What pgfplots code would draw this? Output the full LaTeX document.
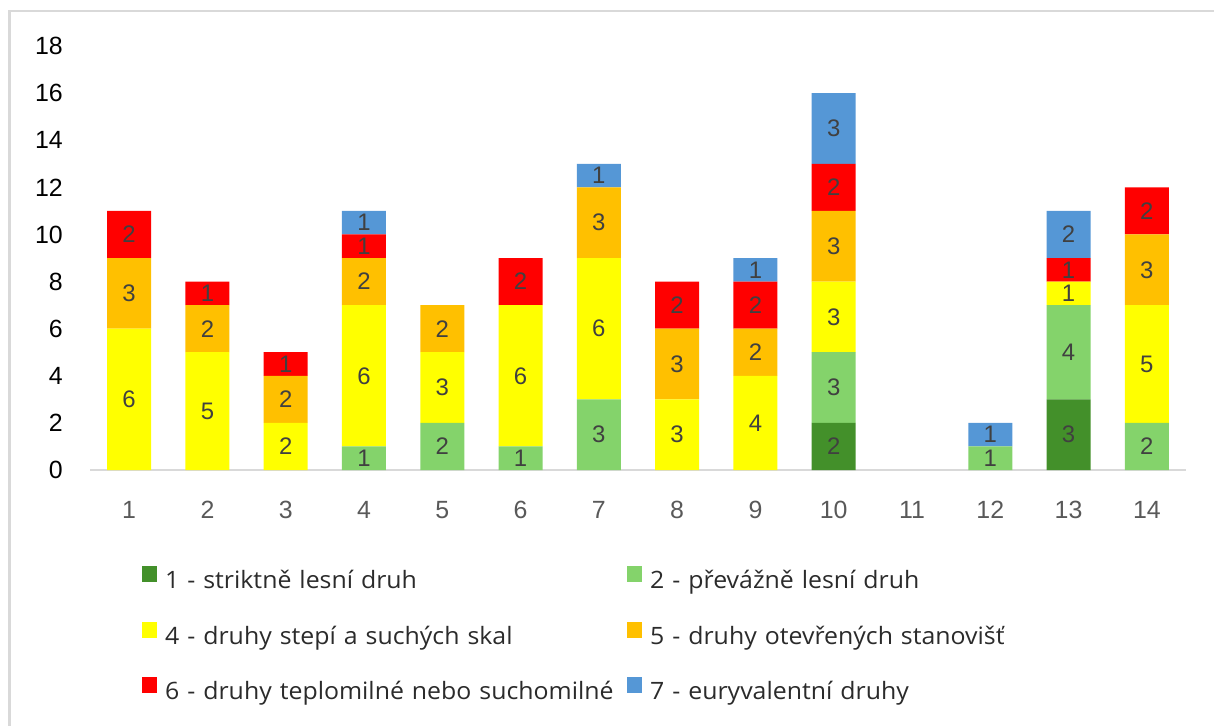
\documentclass[border=0pt]{standalone}
\usepackage{pgfplots}
\pgfplotsset{compat=1.18}
\usepackage{fontspec}
\setmainfont{Liberation Sans}
\newfontfamily\legfont[FakeStretch=1.04]{Open Sans}
\definecolor{c1}{HTML}{43902A}
\definecolor{c2}{HTML}{84D36B}
\definecolor{c4}{HTML}{FFFF00}
\definecolor{c5}{HTML}{FFC000}
\definecolor{c6}{HTML}{FF0000}
\definecolor{c7}{HTML}{5597D6}
\definecolor{framec}{HTML}{D9D9D9}
\definecolor{axisc}{HTML}{D9D9D9}
\definecolor{xtc}{HTML}{595959}
\definecolor{labc}{HTML}{404040}
\definecolor{legc}{HTML}{2B2B2B}
\pgfplotstableread{
x s1 s2 s4 s5 s6 s7
1 0 0 6 3 2 0
2 0 0 5 2 1 0
3 0 0 2 2 1 0
4 0 1 6 2 1 1
5 0 2 3 2 0 0
6 0 1 6 0 2 0
7 0 3 6 3 0 1
8 0 0 3 3 2 0
9 0 0 4 2 2 1
10 2 3 3 3 2 3
11 0 0 0 0 0 0
12 0 1 0 0 0 1
13 3 4 1 0 1 2
14 0 2 5 3 2 0
}\datatable
\begin{document}
\begin{tikzpicture}
\path[use as bounding box] (0,0) rectangle (1214bp,-726bp);
\draw[framec, line width=2.5bp] (9.5bp,-726bp) -- (9.5bp,-11bp) -- (1214bp,-11bp);
\begin{axis}[
  at={(90bp,-470bp)}, anchor=south west,
  scale only axis, width=1096bp, height=424bp,
  ybar stacked, bar width=44bp,
  xmin=0.5, xmax=14.5, ymin=0, ymax=18,
  xtick={1,...,14}, ytick={0,2,...,18},
  axis x line*=bottom, axis y line*=left,
  x axis line style={draw=axisc, line width=2bp},
  y axis line style={draw=none},
  major tick length=0pt,
  /pgf/number format/assume math mode=true,
  xticklabel style={font=\fontsize{25}{30}\selectfont, text=xtc, inner sep=0pt, anchor=north, yshift=-31bp},
  yticklabel style={font=\fontsize{25}{30}\selectfont, text=black, inner sep=0pt, anchor=east, xshift=-27bp},
  visualization depends on=rawy\as\rawy,
  nodes near coords={\ifdim\rawy pt>0pt \pgfmathprintnumber{\rawy}\fi},
  every node near coord/.append style={anchor=center, font=\fontsize{24}{28}\selectfont, text=labc},
  legend columns=2,
  legend cell align=left,
  legend style={at={(0.04745,-0.2264)}, anchor=north west, draw=none, fill=none, inner sep=0pt,
    font=\legfont\fontsize{24}{28}\selectfont, text=legc,
    nodes={inner sep=0pt, text height=18bp, text depth=5bp, text width=455bp},
    row sep=28bp,
    /tikz/column 1/.style={column sep=8bp},
    /tikz/column 2/.style={column sep=7bp},
    /tikz/column 3/.style={column sep=8bp}},
  legend image code/.code={\fill[#1,/tikz/.cd] (0bp,0bp) rectangle (15bp,16bp);},
]
\addplot[fill=c1, draw=none] table[x=x, y=s1] {\datatable};
\addlegendentry{1 - striktně lesní druh}
\addplot[fill=c2, draw=none] table[x=x, y=s2] {\datatable};
\addlegendentry{2 - převážně lesní druh}
\addplot[fill=c4, draw=none] table[x=x, y=s4] {\datatable};
\addlegendentry{4 - druhy stepí a suchých skal}
\addplot[fill=c5, draw=none] table[x=x, y=s5] {\datatable};
\addlegendentry{5 - druhy otevřených stanovišť}
\addplot[fill=c6, draw=none] table[x=x, y=s6] {\datatable};
\addlegendentry{6 - druhy teplomilné nebo suchomilné}
\addplot[fill=c7, draw=none] table[x=x, y=s7] {\datatable};
\addlegendentry{7 - euryvalentní druhy}
\end{axis}
\end{tikzpicture}
\end{document}
